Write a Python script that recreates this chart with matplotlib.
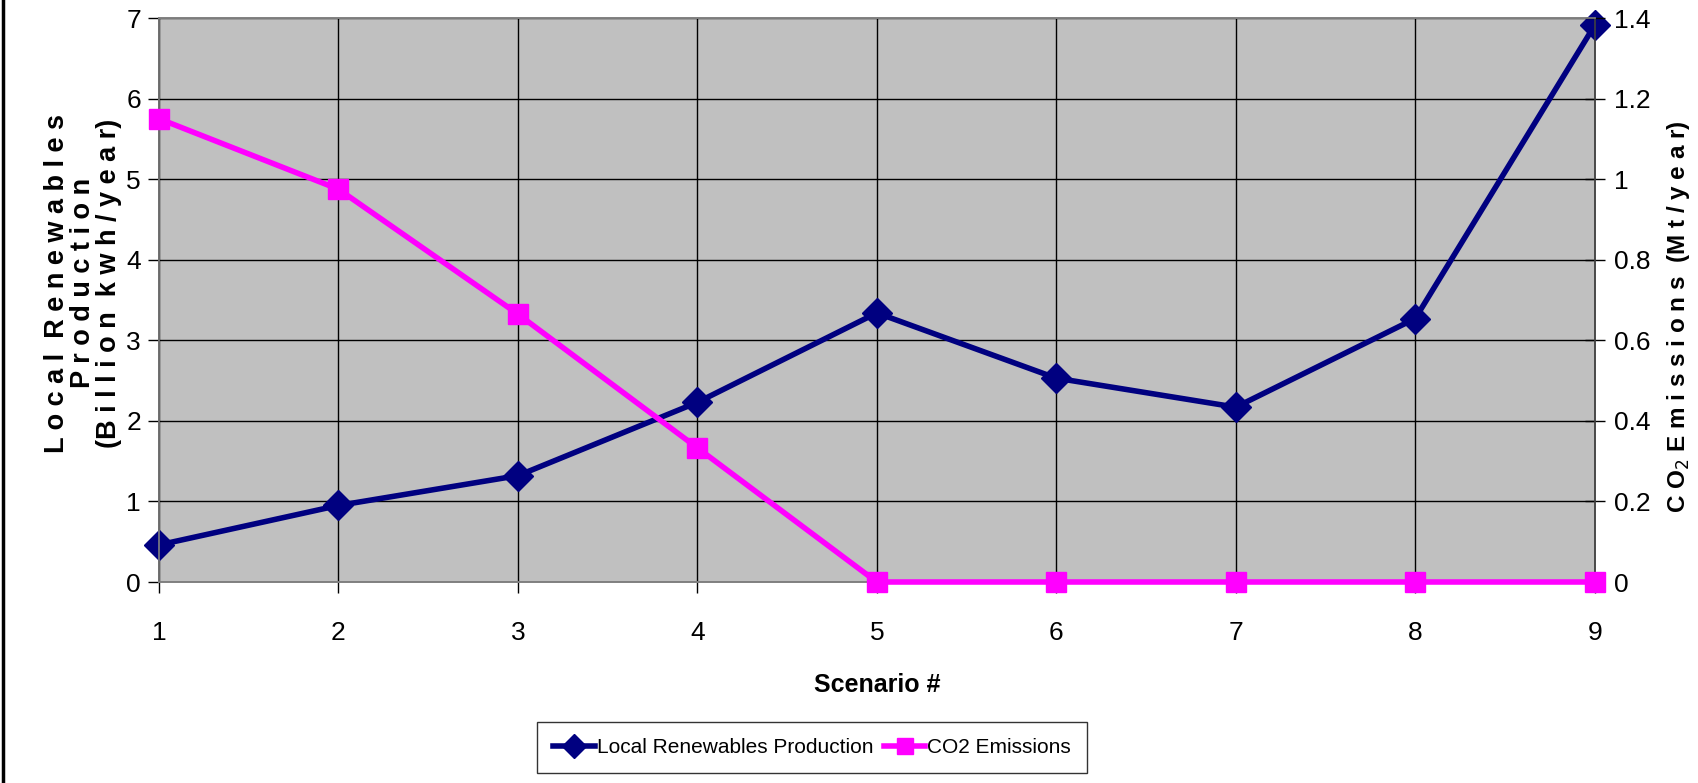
import matplotlib
matplotlib.use('Agg')
import matplotlib.pyplot as plt
from matplotlib.ticker import MultipleLocator, FormatStrFormatter
from matplotlib.lines import Line2D

plt.rcParams['font.family'] = ['Liberation Sans', 'DejaVu Sans']

# scenario results
scenarios = [1, 2, 3, 4, 5, 6, 7, 8, 9]
renewables = [0.46, 0.95, 1.32, 2.23, 3.34, 2.53, 2.17, 3.27, 6.91]   # billion kwh/year
co2 = [1.15, 0.975, 0.665, 0.333, 0, 0, 0, 0, 0]                      # Mt/year

NAVY = '#000080'
PINK = '#FF00FF'

fig = plt.figure(figsize=(16.99, 7.83), dpi=100)
ax = fig.add_axes([0.0936, 0.2567, 0.845, 0.7203])
ax2 = ax.twinx()

ax.set_facecolor('#C0C0C0')
ax.set_zorder(0)
ax2.set_zorder(1)
ax2.patch.set_visible(False)

ax.plot(scenarios, renewables, color=NAVY, lw=4, marker='D', ms=15,
        clip_on=False, zorder=3)
ax2.plot(scenarios, co2, color=PINK, lw=4, marker='s', ms=15,
         clip_on=False, zorder=3)

ax.set_xlim(1, 9)
ax.set_ylim(0, 7)
ax2.set_ylim(0, 1.4)
ax.xaxis.set_major_locator(MultipleLocator(1))
ax.yaxis.set_major_locator(MultipleLocator(1))
ax2.yaxis.set_major_locator(MultipleLocator(0.2))
ax2.yaxis.set_major_formatter(FormatStrFormatter('%g'))

ax.grid(True, color='black', lw=1.0)
ax.set_axisbelow(True)

for a in (ax, ax2):
    for s in a.spines.values():
        s.set_color('#808080')
        s.set_linewidth(1.2)
ax.spines['left'].set_color('black')
ax2.spines['right'].set_color('#404040')

ax.tick_params(axis='x', direction='out', length=8, pad=20, labelsize=19, width=1)
ax.tick_params(axis='y', direction='out', length=8, pad=5, labelsize=19, width=1)
ax2.tick_params(axis='y', direction='inout', length=14, pad=7, labelsize=19, width=1)

ax.set_xlabel('Scenario #', fontsize=18, fontweight='bold', labelpad=20)
ax.set_ylabel('L o c a l  R e n e w a b l e s\nP r o d u c t i o n\n(B i l l i o n  k w h / y e a r)',
              fontsize=19.5, fontweight='bold', linespacing=1.0)
ax.yaxis.set_label_coords(-0.026, 0.53)
ax2.set_ylabel('C O$_2$ E m i s s i o n s  (M t / y e a r)', fontsize=17.5,
               fontweight='bold')
ax2.yaxis.set_label_coords(1.049, 0.47)

handles = [
    Line2D([], [], color=NAVY, lw=4, marker='D', ms=12),
    Line2D([], [], color=PINK, lw=4, marker='s', ms=12),
]
leg = fig.legend(handles, ['Local Renewables Production', 'CO2 Emissions'],
                 loc='lower center', bbox_to_anchor=(0.478, 0.0), ncol=2,
                 fontsize=15, frameon=True, fancybox=False, edgecolor='black',
                 handlelength=2.0, handletextpad=0.1, columnspacing=0.5,
                 borderpad=0.75)
leg.get_frame().set_linewidth(1.0)

# border line at the left edge
fig.add_artist(Line2D([0.002, 0.002], [0, 1], color='black', lw=2.5,
                      transform=fig.transFigure))

fig.savefig('out.png', dpi=100)
